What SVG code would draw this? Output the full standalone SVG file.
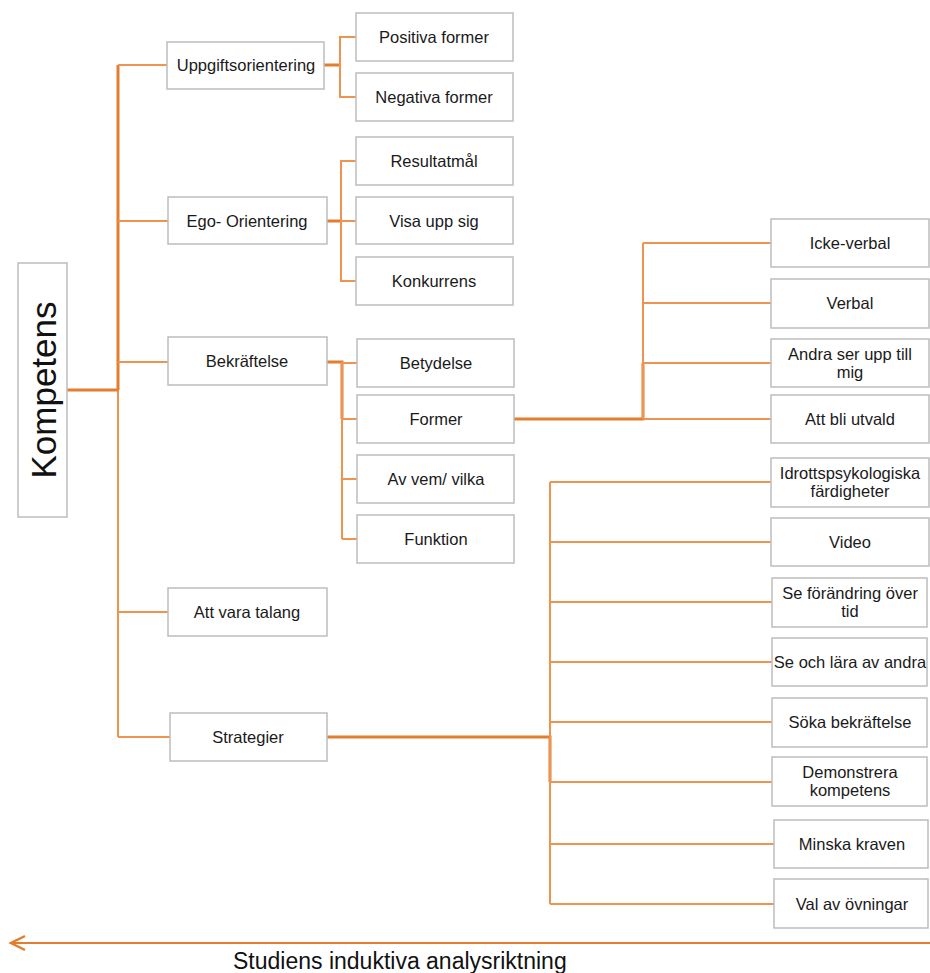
<svg xmlns="http://www.w3.org/2000/svg" width="930" height="973" viewBox="0 0 930 973">
<defs>
<style>
.box{fill:#fff;stroke:#BDBDBD;stroke-width:1.5}
.lbl{font-family:"Liberation Sans",Arial,sans-serif;font-size:16.5px;fill:#1a1a1a;text-anchor:middle}
.ln{fill:none;stroke:#EE9450;stroke-width:2}
.lnb{fill:none;stroke:#E47D2E;stroke-width:3}
.arr{fill:none;stroke:#E47D2E;stroke-width:2.5}
</style>
</defs>
<rect width="930" height="973" fill="#fff"/>

<g id="connectors">
<!-- trunk -->
<path class="ln" d="M118,65 V737"/>
<path class="lnb" d="M67,390 H118 M118,65 V390"/>
<path class="ln" d="M118,65 H167 M118,221 H168 M118,362 H168 M118,612 H168 M118,737 H170"/>
<!-- Uppgiftsorientering -->
<path class="lnb" d="M324,65 H340"/>
<path class="ln" d="M356,37 H340 V97 H356"/>
<!-- Ego -->
<path class="lnb" d="M327,221 H341"/>
<path class="ln" d="M356,161 H341 V281 H356 M341,221 H356"/>
<!-- Bekräftelse -->
<path class="lnb" d="M327,362 H342 V419"/>
<path class="ln" d="M342,362 V539 M342,363 H357 M342,419 H357 M342,479 H357 M342,539 H357"/>
<!-- Former -->
<path class="lnb" d="M514,419 H643 V363"/>
<path class="ln" d="M643,419 V243 M643,243 H771 M643,303 H771 M643,363 H771 M643,419 H771"/>
<!-- Strategier -->
<path class="lnb" d="M327,737 H550 V782"/>
<path class="ln" d="M550,482 V904 M550,482 H771 M550,542 H771 M550,602 H772 M550,662 H772 M550,722 H772 M550,782 H772 M550,844 H774 M550,904 H774"/>
<!-- direction arrow -->
<path d="M930,943 H12" fill="none" stroke="#E47D2E" stroke-width="2"/>
<path class="arr" d="M25,936 L11,943 L25,950"/>
</g>

<g id="n-kompetens">
<rect class="box" x="18" y="263" width="49" height="254"/>
<text x="56" y="390" transform="rotate(-90 56 390)" font-family="'Liberation Sans',Arial,sans-serif" font-size="35" fill="#111" text-anchor="middle">Kompetens</text>
</g>

<g id="n-uppgift"><rect class="box" x="167" y="42" width="157" height="47"/><text class="lbl" x="246" y="71">Uppgiftsorientering</text></g>
<g id="n-ego"><rect class="box" x="168" y="197" width="159" height="47"/><text class="lbl" x="247" y="227">Ego- Orientering</text></g>
<g id="n-bekraftelse"><rect class="box" x="168" y="337" width="159" height="48"/><text class="lbl" x="247" y="367">Bekräftelse</text></g>
<g id="n-talang"><rect class="box" x="168" y="588" width="159" height="48"/><text class="lbl" x="247" y="618">Att vara talang</text></g>
<g id="n-strategier"><rect class="box" x="170" y="713" width="157" height="48"/><text class="lbl" x="248" y="743">Strategier</text></g>

<g id="n-positiva"><rect class="box" x="356" y="13" width="157" height="48"/><text class="lbl" x="434" y="43">Positiva former</text></g>
<g id="n-negativa"><rect class="box" x="356" y="73" width="157" height="48"/><text class="lbl" x="434" y="103">Negativa former</text></g>
<g id="n-resultatmal"><rect class="box" x="356" y="137" width="157" height="48"/><text class="lbl" x="434" y="167">Resultatmål</text></g>
<g id="n-visaupp"><rect class="box" x="356" y="197" width="157" height="47"/><text class="lbl" x="434" y="227">Visa upp sig</text></g>
<g id="n-konkurrens"><rect class="box" x="356" y="257" width="157" height="48"/><text class="lbl" x="434" y="287">Konkurrens</text></g>

<g id="n-betydelse"><rect class="box" x="357" y="339" width="157" height="48"/><text class="lbl" x="436" y="369">Betydelse</text></g>
<g id="n-former"><rect class="box" x="357" y="395" width="157" height="48"/><text class="lbl" x="436" y="425">Former</text></g>
<g id="n-avvem"><rect class="box" x="357" y="455" width="157" height="48"/><text class="lbl" x="436" y="485">Av vem/ vilka</text></g>
<g id="n-funktion"><rect class="box" x="357" y="515" width="157" height="48"/><text class="lbl" x="436" y="545">Funktion</text></g>

<g id="n-ickeverbal"><rect class="box" x="771" y="219" width="158" height="48"/><text class="lbl" x="850" y="249">Icke-verbal</text></g>
<g id="n-verbal"><rect class="box" x="771" y="279" width="158" height="49"/><text class="lbl" x="850" y="309">Verbal</text></g>
<g id="n-andra"><rect class="box" x="771" y="339" width="158" height="48"/><text class="lbl" x="850" y="360">Andra ser upp till</text><text class="lbl" x="850" y="378">mig</text></g>
<g id="n-utvald"><rect class="box" x="771" y="395" width="158" height="48"/><text class="lbl" x="850" y="425">Att bli utvald</text></g>

<g id="n-idrott"><rect class="box" x="771" y="458" width="158" height="49"/><text class="lbl" x="850" y="479">Idrottspsykologiska</text><text class="lbl" x="850" y="497">färdigheter</text></g>
<g id="n-video"><rect class="box" x="771" y="518" width="158" height="48"/><text class="lbl" x="850" y="548">Video</text></g>
<g id="n-forandring"><rect class="box" x="772" y="578" width="155" height="49"/><text class="lbl" x="850" y="599">Se förändring över</text><text class="lbl" x="850" y="617">tid</text></g>
<g id="n-seochlara"><rect class="box" x="772" y="638" width="155" height="48"/><text class="lbl" x="850" y="668">Se och lära av andra</text></g>
<g id="n-soka"><rect class="box" x="772" y="698" width="155" height="49"/><text class="lbl" x="850" y="728">Söka bekräftelse</text></g>
<g id="n-demonstrera"><rect class="box" x="772" y="757" width="155" height="49"/><text class="lbl" x="850" y="778">Demonstrera</text><text class="lbl" x="850" y="796">kompetens</text></g>
<g id="n-minska"><rect class="box" x="774" y="820" width="154" height="48"/><text class="lbl" x="852" y="850">Minska kraven</text></g>
<g id="n-val"><rect class="box" x="774" y="879" width="154" height="49"/><text class="lbl" x="852" y="910">Val av övningar</text></g>

<text x="233" y="969" font-family="'Liberation Sans',Arial,sans-serif" font-size="23" fill="#111">Studiens induktiva analysriktning</text>
</svg>
